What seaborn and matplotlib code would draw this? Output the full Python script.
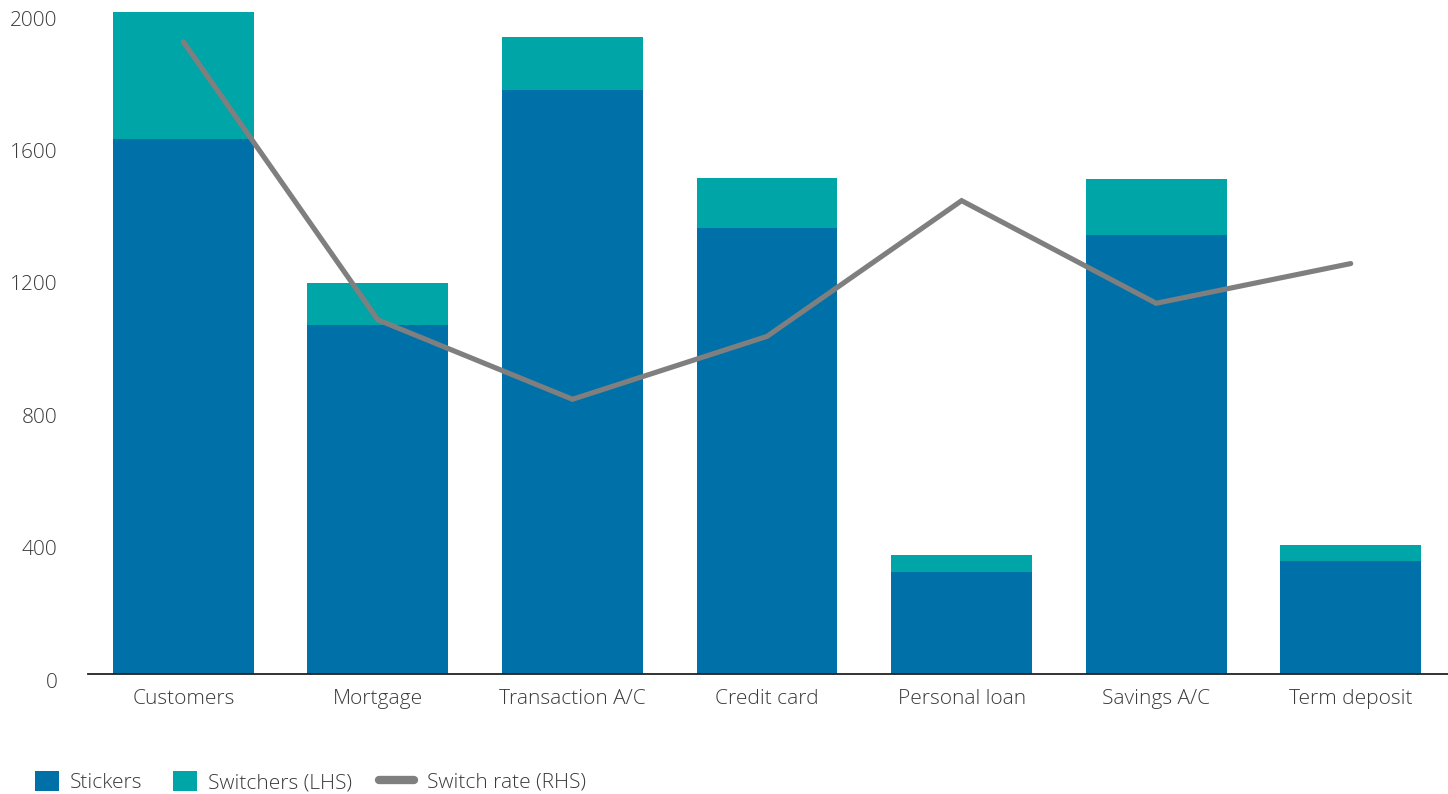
import numpy as np
import pandas as pd
import matplotlib
matplotlib.use("Agg")
import matplotlib.pyplot as plt
import matplotlib.transforms as mtransforms
from matplotlib.patches import Patch
from matplotlib.lines import Line2D
import seaborn as sns

# Product categories
categories = ["Customers", "Mortgage", "Transaction A/C", "Credit card",
              "Personal loan", "Savings A/C", "Term deposit"]
# Number of customers who stayed with their provider (LHS)
stickers = [1616, 1054, 1764, 1347, 308, 1326, 341]
# Number of customers who switched provider (LHS)
switchers = [384, 127, 160, 151, 52, 169, 49]
# Switch rate, per cent (RHS)
switch_rate = [19.1, 10.7, 8.3, 10.2, 14.3, 11.2, 12.4]
y_ticks = [0, 400, 800, 1200, 1600, 2000]

BLUE = "#0070A8"
TEAL = "#00A5A8"
GREY = "#7F7F7F"
TEXT = "#3A3A3A"
FS = 15

sns.set_theme(style="white")
plt.rcParams["font.family"] = ["Open Sans", "DejaVu Sans"]

df = pd.DataFrame({
    "category": categories,
    "stickers": stickers,
    "total": np.array(stickers) + np.array(switchers),
    "rate": switch_rate,
    "pos": np.arange(len(categories)),
})

fig = plt.figure(figsize=(14.48, 7.94), dpi=100)
ax = fig.add_axes([88 / 1448, 120 / 794, 1 - 88 / 1448, (674 - 12) / 794])

sns.barplot(data=df, x="category", y="total", color=TEAL, width=0.724,
            saturation=1, linewidth=0, edgecolor="none", ax=ax)
sns.barplot(data=df, x="category", y="stickers", color=BLUE, width=0.724,
            saturation=1, linewidth=0, edgecolor="none", ax=ax)

ax.set_xlim(-0.49, 6.5)
ax.set_ylim(0, 2000)
ax.set_yticks(y_ticks)
ax.set_yticklabels([str(v) for v in y_ticks])
ax.set_xlabel("")
ax.set_ylabel("")
for side in ["top", "right", "left"]:
    ax.spines[side].set_visible(False)
ax.spines["bottom"].set_color("#222222")
ax.spines["bottom"].set_linewidth(1.3)
ax.tick_params(axis="both", length=0, labelsize=FS, labelcolor=TEXT)
ax.tick_params(axis="y", pad=22)
ax.tick_params(axis="x", pad=11)
for lab in ax.get_yticklabels():
    lab.set_fontweight("light")
    lab.set_transform(lab.get_transform() +
                      mtransforms.ScaledTranslation(0, -6 / 100, fig.dpi_scale_trans))
for lab in ax.get_xticklabels():
    lab.set_fontweight("light")

# Switch rate on a hidden right-hand scale
ax2 = ax.twinx()
sns.lineplot(data=df, x="pos", y="rate", color=GREY, linewidth=3.7, ax=ax2,
             solid_joinstyle="miter")
ax2.set_ylim(0, 20)
ax2.set_xlim(-0.49, 6.5)
ax2.axis("off")

# Legend: square patches and a wider rounded line swatch
patch_handles = [
    Patch(facecolor=BLUE, edgecolor="none", label="Stickers"),
    Patch(facecolor=TEAL, edgecolor="none", label="Switchers (LHS)"),
]
line_handles = [
    Line2D([0], [0], color=GREY, linewidth=6, solid_capstyle="round",
           label="Switch rate (RHS)"),
]
y_leg = 1 - 782 / 794
leg1 = fig.legend(handles=patch_handles, loc="center left",
                  bbox_to_anchor=(16 / 1448, y_leg), ncol=2, frameon=False,
                  fontsize=FS, handlelength=1.15, handleheight=1.15,
                  handletextpad=0.55, columnspacing=1.45)
leg2 = fig.legend(handles=line_handles, loc="center left",
                  bbox_to_anchor=(360 / 1448, y_leg), ncol=1, frameon=False,
                  fontsize=FS, handlelength=1.7, handletextpad=0.6)
for leg in (leg1, leg2):
    for t in leg.get_texts():
        t.set_color(TEXT)
        t.set_fontweight("light")

fig.savefig("out.png", dpi=100)
